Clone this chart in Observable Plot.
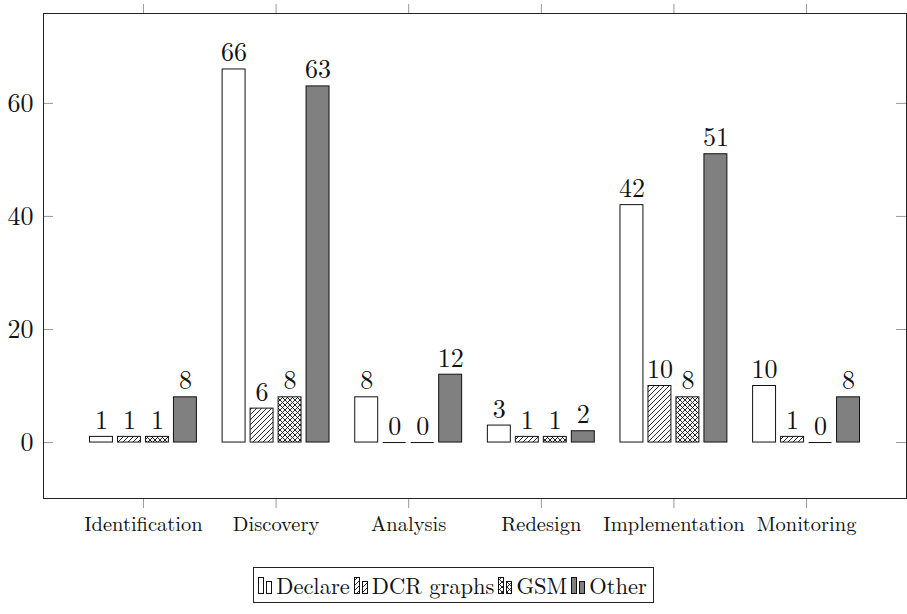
<!DOCTYPE html>
<html>
<head>
<meta charset="utf-8">
<script src="https://cdn.jsdelivr.net/npm/d3@7"></script>
<script src="https://cdn.jsdelivr.net/npm/@observablehq/plot@0.6"></script>
<style>
  body { margin: 0; background: #fff; }
  #chart svg { display: block; }
  #legendWrap { display: flex; justify-content: center; margin-top: 22px; }
  #legend { border: 1px solid #222; padding: 5px 3px 5px 3px; font-family: "Latin Modern Roman", "Liberation Serif"; font-size: 22.5px; line-height: 24px; white-space: nowrap; color: #111; }
  #legend svg { vertical-align: baseline; margin-right: 3px; }
  #legend span.lab { margin-right: 3px; }
</style>
</head>
<body>
<div id="chart"></div>
<div id="legendWrap"><div id="legend"></div></div>
<script>
// ---- data ----
const categories = ["Identification", "Discovery", "Analysis", "Redesign", "Implementation", "Monitoring"];
const seriesNames = ["Declare", "DCR graphs", "GSM", "Other"];
const declareVals = [1, 66, 8, 3, 42, 10];
const dcrVals     = [1, 6, 0, 1, 10, 1];
const gsmVals     = [1, 8, 0, 1, 8, 0];
const otherVals   = [8, 63, 12, 2, 51, 8];
const yTickValues = [0, 20, 40, 60];

// ---- layout / style ----
const fills = ["white", "url(#pat-nel)", "url(#pat-cross)", "#808080"];
const seriesValues = [declareVals, dcrVals, gsmVals, otherVals];
const barStep = 0.211, barWidth = 0.173;
const rows = [];
categories.forEach((c, ci) => {
  seriesValues.forEach((vals, si) => {
    const xc = ci + (si - 1.5) * barStep;
    rows.push({ci, si, value: vals[ci], xc, x1: xc - barWidth / 2, x2: xc + barWidth / 2, fill: fills[si]});
  });
});

const W = 907, H = 545, mL = 43, mR = 1, mT = 13, mB = 47;
const plotW = W - mL - mR;
const lm = "'Latin Modern Roman', 'Liberation Serif'";

const chart = Plot.plot({
  width: W, height: H,
  marginLeft: mL, marginRight: mR, marginTop: mT, marginBottom: mB,
  style: {fontFamily: lm, background: "white", color: "#111"},
  x: {domain: [-0.7536, 5.7536], axis: null},
  y: {domain: [-9.9, 75.9], axis: null},
  color: {type: "identity"},
  marks: [
    Plot.rectY(rows, {x1: "x1", x2: "x2", y1: 0, y2: "value", fill: "fill", stroke: "#111", strokeWidth: 1}),
    Plot.ruleY(rows.filter(d => d.value === 0), {y: 0, x1: "x1", x2: "x2", stroke: "#111", strokeWidth: 1}),
    Plot.text(rows, {x: "xc", y: "value", text: d => String(d.value), lineAnchor: "bottom", dy: -8, fontSize: 26, fill: "#111"}),
    Plot.axisX(categories.map((c, i) => i), {anchor: "bottom", tickSize: 10, tickPadding: 8, tickFormat: i => categories[i], fontSize: 20.5, stroke: "#999", fill: "#111", label: null}),
    Plot.axisX(categories.map((c, i) => i), {anchor: "top", tickSize: 10, tickFormat: () => "", stroke: "#999", label: null}),
    Plot.axisY(yTickValues, {anchor: "left", tickSize: 0, tickPadding: 10, fontSize: 26, fill: "#111", label: null}),
    Plot.ruleY(yTickValues, {insetRight: plotW - 10, stroke: "#999"}),
    Plot.ruleY(yTickValues, {insetLeft: plotW - 10, stroke: "#999"}),
    Plot.frame({stroke: "#222"})
  ]
});

// patterns
const svg = d3.select(chart);
const defs = svg.insert("defs", ":first-child");
const p1 = defs.append("pattern").attr("id", "pat-nel").attr("patternUnits", "userSpaceOnUse").attr("width", 5).attr("height", 5);
p1.append("rect").attr("width", 5).attr("height", 5).attr("fill", "white");
p1.append("path").attr("d", "M-1,1 L1,-1 M0,5 L5,0 M4,6 L6,4").attr("stroke", "#111").attr("stroke-width", 0.9);
const p2 = defs.append("pattern").attr("id", "pat-cross").attr("patternUnits", "userSpaceOnUse").attr("width", 5).attr("height", 5);
p2.append("rect").attr("width", 5).attr("height", 5).attr("fill", "white");
p2.append("path").attr("d", "M-1,1 L1,-1 M0,5 L5,0 M4,6 L6,4 M-1,4 L1,6 M0,0 L5,5 M4,-1 L6,1").attr("stroke", "#111").attr("stroke-width", 0.9);

document.getElementById("chart").appendChild(chart);

// legend
const legend = document.getElementById("legend");
seriesNames.forEach((name, si) => {
  const ns = "http://www.w3.org/2000/svg";
  const s = document.createElementNS(ns, "svg");
  s.setAttribute("width", 16); s.setAttribute("height", 17);
  const r1 = document.createElementNS(ns, "rect");
  r1.setAttribute("x", 1.5); r1.setAttribute("y", 0.5); r1.setAttribute("width", 5); r1.setAttribute("height", 16);
  const r2 = document.createElementNS(ns, "rect");
  r2.setAttribute("x", 9.5); r2.setAttribute("y", 4.5); r2.setAttribute("width", 5); r2.setAttribute("height", 12);
  [r1, r2].forEach(r => { r.setAttribute("fill", fills[si]); r.setAttribute("stroke", "#111"); r.setAttribute("stroke-width", 1); s.appendChild(r); });
  legend.appendChild(s);
  const t = document.createElement("span");
  t.className = "lab";
  t.textContent = name;
  legend.appendChild(t);
});
</script>
</body>
</html>
